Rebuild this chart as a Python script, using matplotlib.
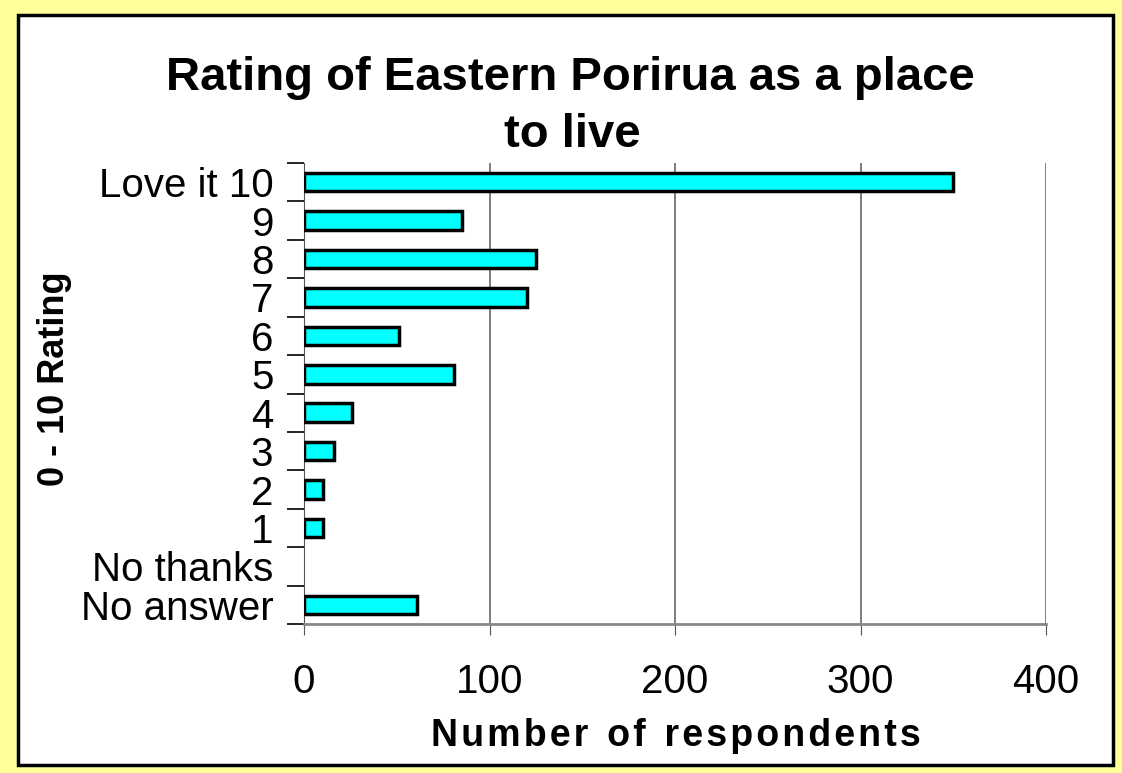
import matplotlib.pyplot as plt
from matplotlib.patches import Rectangle

plt.rcParams['font.family'] = ['Liberation Sans', 'DejaVu Sans']

categories = ['Love it 10', '9', '8', '7', '6', '5', '4', '3', '2', '1', 'No thanks', 'No answer']
counts = [350, 85, 125, 120, 51, 81, 26, 16, 10, 10, 0, 61]
x_ticks = [0, 100, 200, 300, 400]

W, H = 1122, 773
fig = plt.figure(figsize=(W / 100, H / 100), dpi=100)
fig.patch.set_facecolor('#FFFF99')

# white panel with black border
fig.patches.append(Rectangle((18 / W, 1 - 765 / H), (1113 - 18) / W, (765 - 15) / H,
                             transform=fig.transFigure, facecolor='white',
                             edgecolor='black', linewidth=2.5, zorder=-5))

ax = fig.add_axes([304 / W, 1 - 624 / H, (1046 - 304) / W, (624 - 163) / H])
ax.set_zorder(2)
ax.set_facecolor('none')

n = len(categories)
ypos = list(range(n - 1, -1, -1))
edge = ['black' if c > 0 else 'none' for c in counts]
ax.barh(ypos, counts, height=0.48, color='#00FFFF', edgecolor=edge, linewidth=2.5, zorder=3)

ax.set_xlim(0, 400)
ax.set_ylim(-0.5, n - 0.5)
ax.set_xticks(x_ticks)
ax.set_xticklabels([str(t) for t in x_ticks], fontsize=29)
ax.set_yticks(ypos)
ax.set_yticklabels(categories, fontsize=29)
ax.tick_params(axis='y', length=0, pad=22)
ax.tick_params(axis='x', length=8, color='#555555', pad=20)

# minor ticks on y at category boundaries
ax.set_yticks([i - 0.5 for i in range(n + 1)], minor=True)
ax.tick_params(axis='y', which='minor', length=12, color='black', width=1.2)

ax.grid(axis='x', color='#666666', linewidth=1.2, zorder=0)
for s in ['top', 'right']:
    ax.spines[s].set_visible(False)
ax.spines['left'].set_color('#555555')
ax.spines['bottom'].set_color('#888888')
ax.spines['bottom'].set_linewidth(2)

fig.text(570 / W, 1 - 78 / H, 'Rating of Eastern Porirua as a place', ha='center', va='center',
         fontsize=34, fontweight='bold')
fig.text(572 / W, 1 - 135 / H, 'to live', ha='center', va='center',
         fontsize=34, fontweight='bold')
fig.text(676 / W, 1 - 736 / H, 'N u m b e r   o f   r e s p o n d e n t s'.replace('   ', '\u2002').replace(' ', '\u200a'),
         ha='center', va='center', fontsize=27, fontweight='bold')
fig.text(54 / W, 1 - 379 / H, '0 - 10 Rating', ha='center', va='center', rotation=90,
         fontsize=26, fontweight='bold')

fig.savefig('out.png', dpi=100, facecolor=fig.get_facecolor())
